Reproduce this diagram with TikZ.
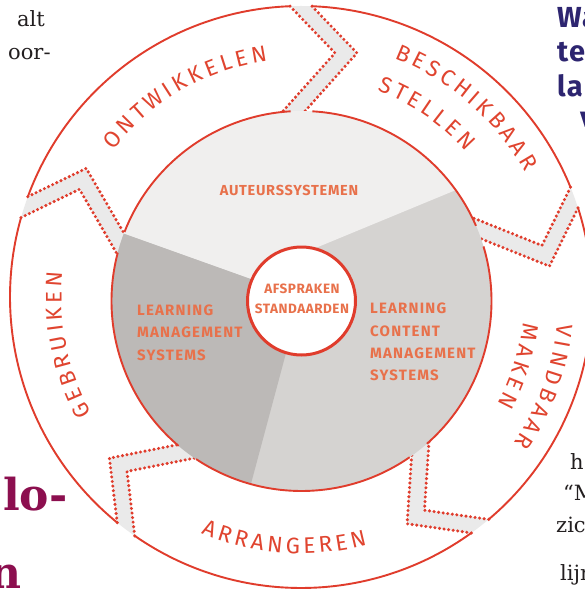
\documentclass[tikz,border=0pt]{standalone}
\usepackage{fontspec}
\usetikzlibrary{calc,decorations.text}
\newfontfamily\ringfont{Fira Sans}
\newfontfamily\discfont[LetterSpace=8]{Fira Sans}
\newfontfamily\autfont[LetterSpace=5]{Fira Sans}
\newfontfamily\midfont[LetterSpace=4]{Fira Sans}
\newfontfamily\headfont[LetterSpace=4]{Fira Sans}
\newfontfamily\bodyfont{DejaVu Serif}
\definecolor{ringred}{HTML}{E03C2C}
\definecolor{ringtext}{HTML}{E0442F}
\definecolor{disctext}{HTML}{E8714B}
\definecolor{toparea}{HTML}{F0EFEE}
\definecolor{leftarea}{HTML}{BCB9B7}
\definecolor{rightarea}{HTML}{D5D3D1}
\definecolor{gapgray}{HTML}{EAEAEA}
\definecolor{navy}{HTML}{2D2570}
\definecolor{plum}{HTML}{8C0F4F}
\definecolor{bodyink}{HTML}{231F20}
\begin{document}
\begin{tikzpicture}[x=1pt,y=1pt,
  redline/.style={draw=ringred, line width=1.9pt},
  dotline/.style={draw=ringred, line width=3.4pt, line cap=round, dash pattern=on 0pt off 4.6pt},
  ringlabel/.style={decorate, decoration={text along path, text align=center,
     text={|\ringfont\fontsize{22.5}{22.5}\selectfont\fontdimen2\font=3.8pt\color{ringtext}|#1}}},
  disclabel/.style={font=\discfont\bfseries\fontsize{15}{17}\selectfont, text=disctext, inner sep=0pt, anchor=base west},
  autlabel/.style={font=\autfont\bfseries\fontsize{14.5}{17}\selectfont, text=disctext, inner sep=0pt, anchor=base},
  midlabel/.style={font=\midfont\bfseries\fontsize{13.5}{15}\selectfont, text=disctext, inner sep=0pt, anchor=base},
  bodytext/.style={font=\bodyfont\fontsize{21}{24}\selectfont, text=bodyink, inner sep=0pt},
  headtext/.style={font=\headfont\bfseries\fontsize{29}{30}\selectfont, text=navy, inner sep=0pt, anchor=base west},
  plumtext/.style={font=\bodyfont\bfseries\fontsize{44}{46}\selectfont, text=plum, inner sep=0pt, anchor=base west}
]
\useasboundingbox (0,0) rectangle (585,-591);
\fill[white] (0,0) rectangle (585,-591);
\coordinate (C) at (301,-297);
\coordinate (D) at (301.5,-301);

% chevron gaps between the ring segments (inner ends run under the disc)
\foreach \a in {90,20,-52,-127,162}{
  \begin{scope}[shift={(C)}, rotate=\a]
    \fill[gapgray] (290.8,11) -- (244,-34) -- (175,27.7) -- (175,5.7)
       -- (244,-56) -- (290.8,-11)
       arc[start angle=-2.17, end angle=2.17, radius=291] -- cycle;
    \draw[dotline] (290.8,11) -- (244,-34) -- (183,20.6);
    \draw[dotline] (290.8,-11) -- (244,-56) -- (183,-1.4);
  \end{scope}
}

% inner disc with three sectors
\begin{scope}
  \clip (D) circle[radius=190];
  \fill[rightarea] (D) circle[radius=200];
  \fill[toparea] (301,-297) -- (66,-213) -- (66,0) -- (560,0) -- (560,-147) -- (301,-254) -- cycle;
  \fill[leftarea] (301,-297) -- (66,-213) -- (0,-213) -- (0,-600) -- (237,-536) -- cycle;
\end{scope}

% ring outlines between the gaps
\foreach \s/\e in {90/20, 20/-52, -52/-127, -127/-198, -198/-270}{
  \draw[redline] ($(C)+({\s-2.17}:291)$) arc[start angle={\s-2.17}, end angle={\e+2.17}, radius=291];
  \draw[redline] ($(D)+({\s-3.3}:190)$) arc[start angle={\s-3.3}, end angle={\e+3.3}, radius=190];
}

% ring labels
\path[ringlabel={O N T W I K K E L E N}] ($(C)+(170:238.5)$) arc[start angle=170, end angle=70, radius=238.5];
\path[ringlabel={B E S C H I K B A A R}] ($(C)+(98.9:256.5)$) arc[start angle=98.9, end angle=-1.1, radius=256.5];
\path[ringlabel={S T E L L E N}] ($(C)+(105.6:220)$) arc[start angle=105.6, end angle=5.6, radius=220];
\path[ringlabel={V I N D B A A R}] ($(C)+(29.8:258)$) arc[start angle=29.8, end angle=-70.2, radius=258];
\path[ringlabel={M A K E N}] ($(C)+(32.4:223.5)$) arc[start angle=32.4, end angle=-67.6, radius=223.5];
\path[ringlabel={A R R A N G E R E N}] ($(C)+(-144:256.5)$) arc[start angle=-144, end angle=-44, radius=256.5];
\path[ringlabel={G E B R U I K E N}] ($(C)+(241.6:239.5)$) arc[start angle=241.6, end angle=141.6, radius=239.5];

% disc labels
\node[autlabel] (aut) at (289,-195) {AUTEURSSYSTEMEN};
\node[disclabel] (lms1) at (137,-315) {LEARNING};
\node[disclabel] (lms2) at (137,-337.5) {MANAGEMENT};
\node[disclabel] (lms3) at (137,-360) {SYSTEMS};
\node[disclabel] (lcms1) at (370,-313) {LEARNING};
\node[disclabel] (lcms2) at (370,-336) {CONTENT};
\node[disclabel] (lcms3) at (370,-358) {MANAGEMENT};
\node[disclabel] (lcms4) at (370,-380) {SYSTEMS};

% centre circle
\draw[draw=ringred, line width=3pt, fill=white] (D) circle[radius=54];
\node[midlabel] (afs) at (302,-293) {AFSPRAKEN};
\node[midlabel] (std) at (302,-313) {STANDAARDEN};

% cut-off page text
\node[bodytext, anchor=base east] (f1) at (45,-27) {alt};
\node[bodytext, anchor=base west] (f2) at (8,-60) {oor-};
\node[headtext] (h1) at (557,-28) {Wa};
\node[headtext] (h2) at (557,-62) {te};
\node[headtext] (h3) at (557,-97) {la};
\node[headtext] (h4) at (580,-128) {v};
\node[plumtext] (p1) at (3,-510) {lo-};
\node[plumtext] (p2) at (-11,-588) {n};
\node[bodytext, anchor=base west] (r1) at (570,-469) {h};
\node[bodytext, anchor=base west] (r2) at (563,-500) {“M};
\node[bodytext, anchor=base west] (r3) at (556,-532) {zich};
\node[bodytext, anchor=base west] (r4) at (560,-580) {lijn};
\end{tikzpicture}
\end{document}
